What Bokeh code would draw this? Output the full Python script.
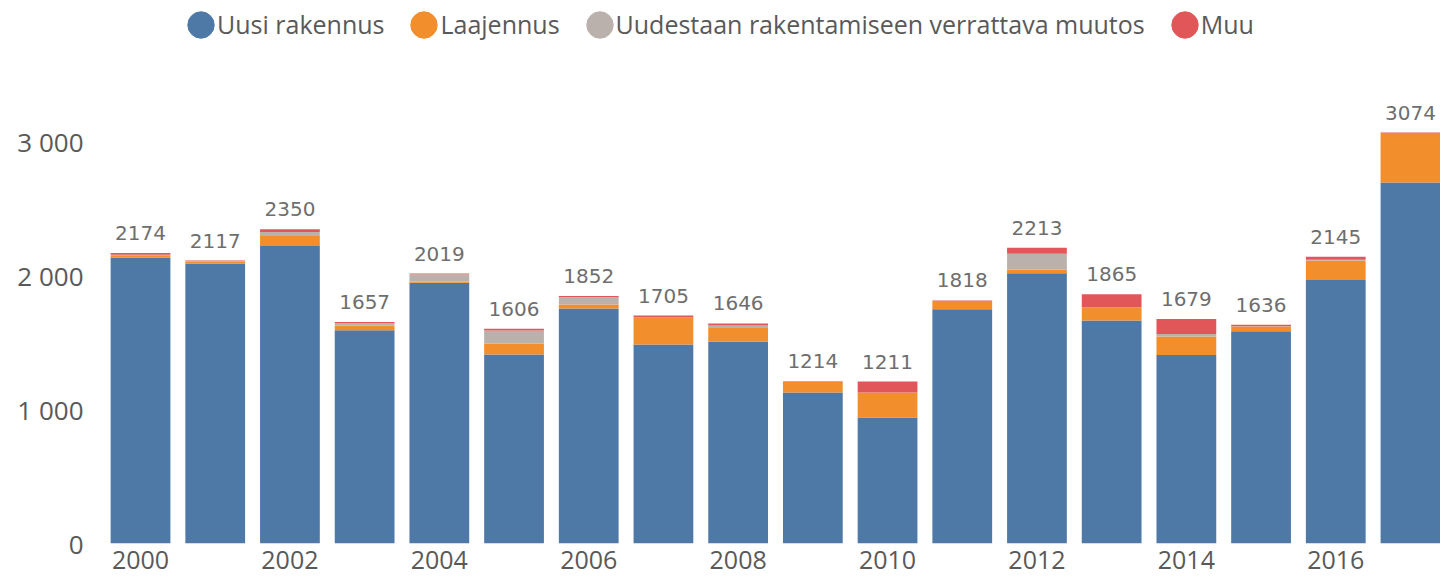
from bokeh.plotting import figure
from bokeh.models import ColumnDataSource, FixedTicker, Legend, LegendItem, Range1d
from bokeh.core.properties import value
from bokeh.embed import file_html
from bokeh.resources import INLINE

years = list(range(2000, 2018))
uusi = [2140, 2095, 2225, 1595, 1950, 1414, 1758, 1488, 1509, 1130, 942, 1752, 2022, 1668, 1411, 1588, 1972, 2700]
laajennus = [10, 12, 75, 35, 10, 82, 30, 205, 104, 80, 187, 62, 25, 100, 137, 35, 145, 370]
uudestaan = [10, 4, 30, 20, 55, 97, 54, 0, 17, 0, 0, 0, 120, 0, 20, 3, 5, 0]
muu = [14, 6, 20, 7, 4, 13, 10, 12, 16, 4, 82, 4, 46, 97, 111, 10, 23, 4]
totals = [2174, 2117, 2350, 1657, 2019, 1606, 1852, 1705, 1646, 1214, 1211, 1818, 2213, 1865, 1679, 1636, 2145, 3074]
series_names = ["Uusi rakennus", "Laajennus", "Uudestaan rakentamiseen verrattava muutos", "Muu"]
colors = ["#4e79a7", "#f28e2b", "#bab0ac", "#e15759"]
x_ticks = [2000, 2002, 2004, 2006, 2008, 2010, 2012, 2014, 2016]
y_ticks = [0, 1000, 2000, 3000]
y_tick_labels = ["0", "1 000", "2 000", "3 000"]

src = ColumnDataSource(dict(x=years, uusi=uusi, laajennus=laajennus, uudestaan=uudestaan,
                            muu=muu, total=totals, label=[str(t) for t in totals]))

p = figure(width=1440, height=577, output_backend="svg", toolbar_location=None,
           x_range=Range1d(1999.491, 2017.402), y_range=Range1d(0, 4062),
           min_border_left=102, min_border_right=0, min_border_top=0, min_border_bottom=34)
p.outline_line_color = None
p.grid.visible = False

p.vbar_stack(["uusi", "laajennus", "uudestaan", "muu"], x="x", width=0.8, source=src,
             color=colors, line_color=None)

p.text(x="x", y="total", text="label", source=src, text_align="center", text_baseline="bottom",
       y_offset=-13, text_font=value("DejaVu Sans"), text_font_size="20px", text_color="#6e6e6e")

# legend: round swatches (ellipse glyphs placed outside the visible range)
items = []
for name, c in zip(series_names, colors):
    r = p.ellipse(x=[1990], y=[-1000], width=26, height=26, width_units="screen",
                  height_units="screen", color=c)
    items.append(LegendItem(label=name, renderers=[r]))
leg = Legend(items=items, orientation="horizontal", location=(82, 502),
             label_text_font="Open Sans", label_text_font_size="25px", label_text_color="#595959",
             glyph_width=33, glyph_height=33, label_standoff=0, spacing=23,
             border_line_color=None, background_fill_alpha=0, margin=0, padding=2)
p.add_layout(leg)

p.xaxis.ticker = FixedTicker(ticks=x_ticks)
p.yaxis.ticker = FixedTicker(ticks=y_ticks)
p.yaxis.major_label_overrides = {t: l for t, l in zip(y_ticks, y_tick_labels)}
for ax in (p.xaxis, p.yaxis):
    ax.axis_line_color = None
    ax.major_tick_line_color = None
    ax.minor_tick_line_color = None
    ax.major_label_text_font = "Open Sans"
    ax.major_label_text_color = "#595959"
p.yaxis.major_label_text_font_size = "26px"
p.xaxis.major_label_text_font_size = "25px"
p.xaxis.major_label_standoff = 1
p.yaxis.major_label_standoff = 13

open("out.html", "w").write(file_html(p, INLINE))
